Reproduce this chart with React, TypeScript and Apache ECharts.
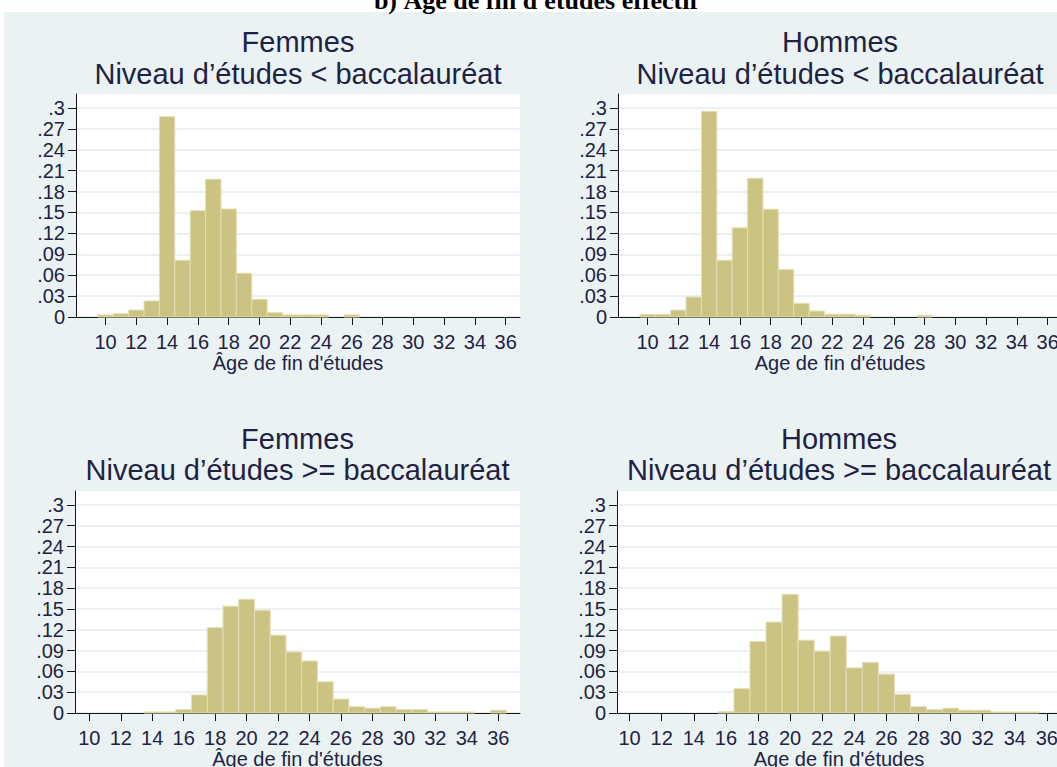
import React, { useEffect, useRef } from 'react';
import * as echarts from 'echarts';

// ---- Data ----
const ages = [10, 11, 12, 13, 14, 15, 16, 17, 18, 19, 20, 21, 22, 23, 24, 25, 26, 27, 28, 29, 30, 31, 32, 33, 34, 35, 36];

const femmesInfBac = [0.003, 0.0047, 0.010, 0.023, 0.2875, 0.0814, 0.1526, 0.1976, 0.155, 0.0627, 0.0254, 0.0062, 0.003, 0.003, 0.003, 0, 0.003, 0, 0, 0, 0, 0, 0, 0, 0, 0, 0];
const hommesInfBac = [0.0038, 0.0038, 0.010, 0.0287, 0.2952, 0.0814, 0.128, 0.199, 0.1546, 0.068, 0.0196, 0.0086, 0.004, 0.004, 0.0024, 0, 0, 0, 0.0024, 0, 0, 0, 0, 0, 0, 0, 0];
const femmesSupBac = [0, 0, 0, 0, 0.0015, 0.0015, 0.005, 0.026, 0.123, 0.154, 0.164, 0.148, 0.112, 0.088, 0.075, 0.045, 0.020, 0.009, 0.007, 0.009, 0.005, 0.005, 0.0015, 0.0015, 0.0015, 0, 0.004];
const hommesSupBac = [0, 0, 0, 0, 0, 0, 0.002, 0.035, 0.103, 0.131, 0.171, 0.105, 0.089, 0.111, 0.065, 0.073, 0.056, 0.027, 0.009, 0.005, 0.007, 0.004, 0.004, 0.0015, 0.0015, 0.0015, 0];

const xTicks = [10, 12, 14, 16, 18, 20, 22, 24, 26, 28, 30, 32, 34, 36];
const yTicks = [0, 0.03, 0.06, 0.09, 0.12, 0.15, 0.18, 0.21, 0.24, 0.27, 0.3];
const yTickLabels = ['0', '.03', '.06', '.09', '.12', '.15', '.18', '.21', '.24', '.27', '.3'];

const mainTitle = "b) Âge de fin d'études effectif";
const panelTitles = [
  ['Femmes', 'Niveau d’études < baccalauréat'],
  ['Hommes', 'Niveau d’études < baccalauréat'],
  ['Femmes', 'Niveau d’études >= baccalauréat'],
  ['Hommes', 'Niveau d’études >= baccalauréat'],
];
const xAxisNames = ["Âge de fin d'études", "Age de fin d'études", "Âge de fin d'études", "Age de fin d'études"];
const seriesValues = [femmesInfBac, hommesInfBac, femmesSupBac, hommesSupBac];

// ---- Layout / style ----
const panels = [
  { left: 76, top: 94, width: 444, height: 223, xmin: 8.08, xmax: 36.93, t1: 52, t2: 84 },
  { left: 618, top: 94, width: 444, height: 223, xmin: 8.08, xmax: 36.93, t1: 52, t2: 84 },
  { left: 75, top: 491, width: 445, height: 222, xmin: 9.09, xmax: 37.38, t1: 449, t2: 480 },
  { left: 617, top: 491, width: 444, height: 222, xmin: 9.215, xmax: 36.88, t1: 449, t2: 480 },
];

const FONT = '"Liberation Sans", Arial, sans-serif';
const TEXT = '#1E2343';
const AXIS = '#151515';
const BG = '#EAF2F3';
const GRIDLINE = '#E4ECEF';
const BAR = '#CBC382';
const BAR_EDGE = '#E4DFB4';

function yLabel(v: number): string {
  let best = 0;
  for (let i = 0; i < yTicks.length; i++) {
    if (Math.abs(yTicks[i] - v) < Math.abs(yTicks[best] - v)) best = i;
  }
  return yTickLabels[best];
}

export default function App() {
  const ref = useRef<HTMLDivElement>(null);

  useEffect(() => {
    if (!ref.current) return;
    const chart = echarts.init(ref.current, undefined, { renderer: 'svg' });

    const grid = panels.map((p) => ({
      left: p.left, top: p.top, width: p.width, height: p.height,
      show: true, backgroundColor: '#ffffff', borderWidth: 0,
      containLabel: false, outerBoundsMode: 'none',
    }));

    const xAxis = panels.map((p, i) => ({
      gridIndex: i, type: 'value', min: p.xmin, max: p.xmax,
      axisLine: { show: true, onZero: false, lineStyle: { color: AXIS, width: 1 } },
      axisTick: { show: true, length: 8, customValues: xTicks, lineStyle: { color: AXIS, width: 1 } },
      axisLabel: { customValues: xTicks, margin: 15, fontSize: 20, fontFamily: FONT, color: TEXT, hideOverlap: false },
      splitLine: { show: false },
      name: xAxisNames[i], nameLocation: 'middle', nameGap: 34,
      nameTextStyle: { fontSize: 20, fontFamily: FONT, color: TEXT },
    }));

    const yAxis = panels.map((p, i) => ({
      gridIndex: i, type: 'value', min: 0, max: 0.32, interval: 0.03,
      axisLine: { show: true, lineStyle: { color: AXIS, width: 1 } },
      axisTick: { show: true, length: 8, customValues: yTicks, lineStyle: { color: AXIS, width: 1 } },
      axisLabel: { customValues: yTicks, formatter: (v: number) => yLabel(v), margin: 11, fontSize: 20, fontFamily: FONT, color: TEXT, hideOverlap: false },
      splitLine: { show: true, lineStyle: { color: GRIDLINE, width: 1.5 } },
    }));

    const series = seriesValues.map((vals, i) => ({
      type: 'custom',
      xAxisIndex: i, yAxisIndex: i,
      data: ages.map((a, k) => [a, vals[k]]).filter((d) => d[1] > 0),
      renderItem: (params: any, api: any) => {
        const x = api.value(0);
        const y = api.value(1);
        const p0 = api.coord([x - 0.5, y]);
        const p1 = api.coord([x + 0.5, 0]);
        return {
          type: 'rect',
          shape: { x: p0[0], y: p0[1], width: p1[0] - p0[0], height: p1[1] - p0[1] },
          style: { fill: BAR, stroke: BAR_EDGE, lineWidth: 1 },
        };
      },
    }));

    const textEl = (text: string, x: number, baseline: number, size: number, family: string, weight = 'normal') => ({
      type: 'text', x, y: baseline - 0.3465 * size, z: 10,
      style: {
        text, fontSize: size, fontFamily: family, fontWeight: weight, fill: TEXT,
        align: 'center', verticalAlign: 'middle', textAlign: 'center', textVerticalAlign: 'middle',
      },
    });

    const elements: any[] = [
      { type: 'rect', z: -10, shape: { x: 4, y: 12, width: 1053, height: 755 }, style: { fill: BG }, silent: true },
      { ...textEl(mainTitle, 536, 10, 26, '"Liberation Serif", "Times New Roman", serif', 'bold'), style: { ...textEl(mainTitle, 536, 10, 26, '"Liberation Serif", serif', 'bold').style, fill: '#000' } },
    ];
    panels.forEach((p, i) => {
      const cx = p.left + p.width / 2;
      elements.push(textEl(panelTitles[i][0], cx, p.t1, 29, FONT));
      elements.push(textEl(panelTitles[i][1], cx, p.t2, 29, FONT));
    });

    chart.setOption({
      animation: false,
      backgroundColor: 'transparent',
      graphic: { elements },
      grid, xAxis, yAxis, series,
    });

    return () => chart.dispose();
  }, []);

  return (
    <div
      ref={ref}
      style={{ position: 'absolute', left: 0, top: 0, width: 1057, height: 767, background: '#fff' }}
    />
  );
}
